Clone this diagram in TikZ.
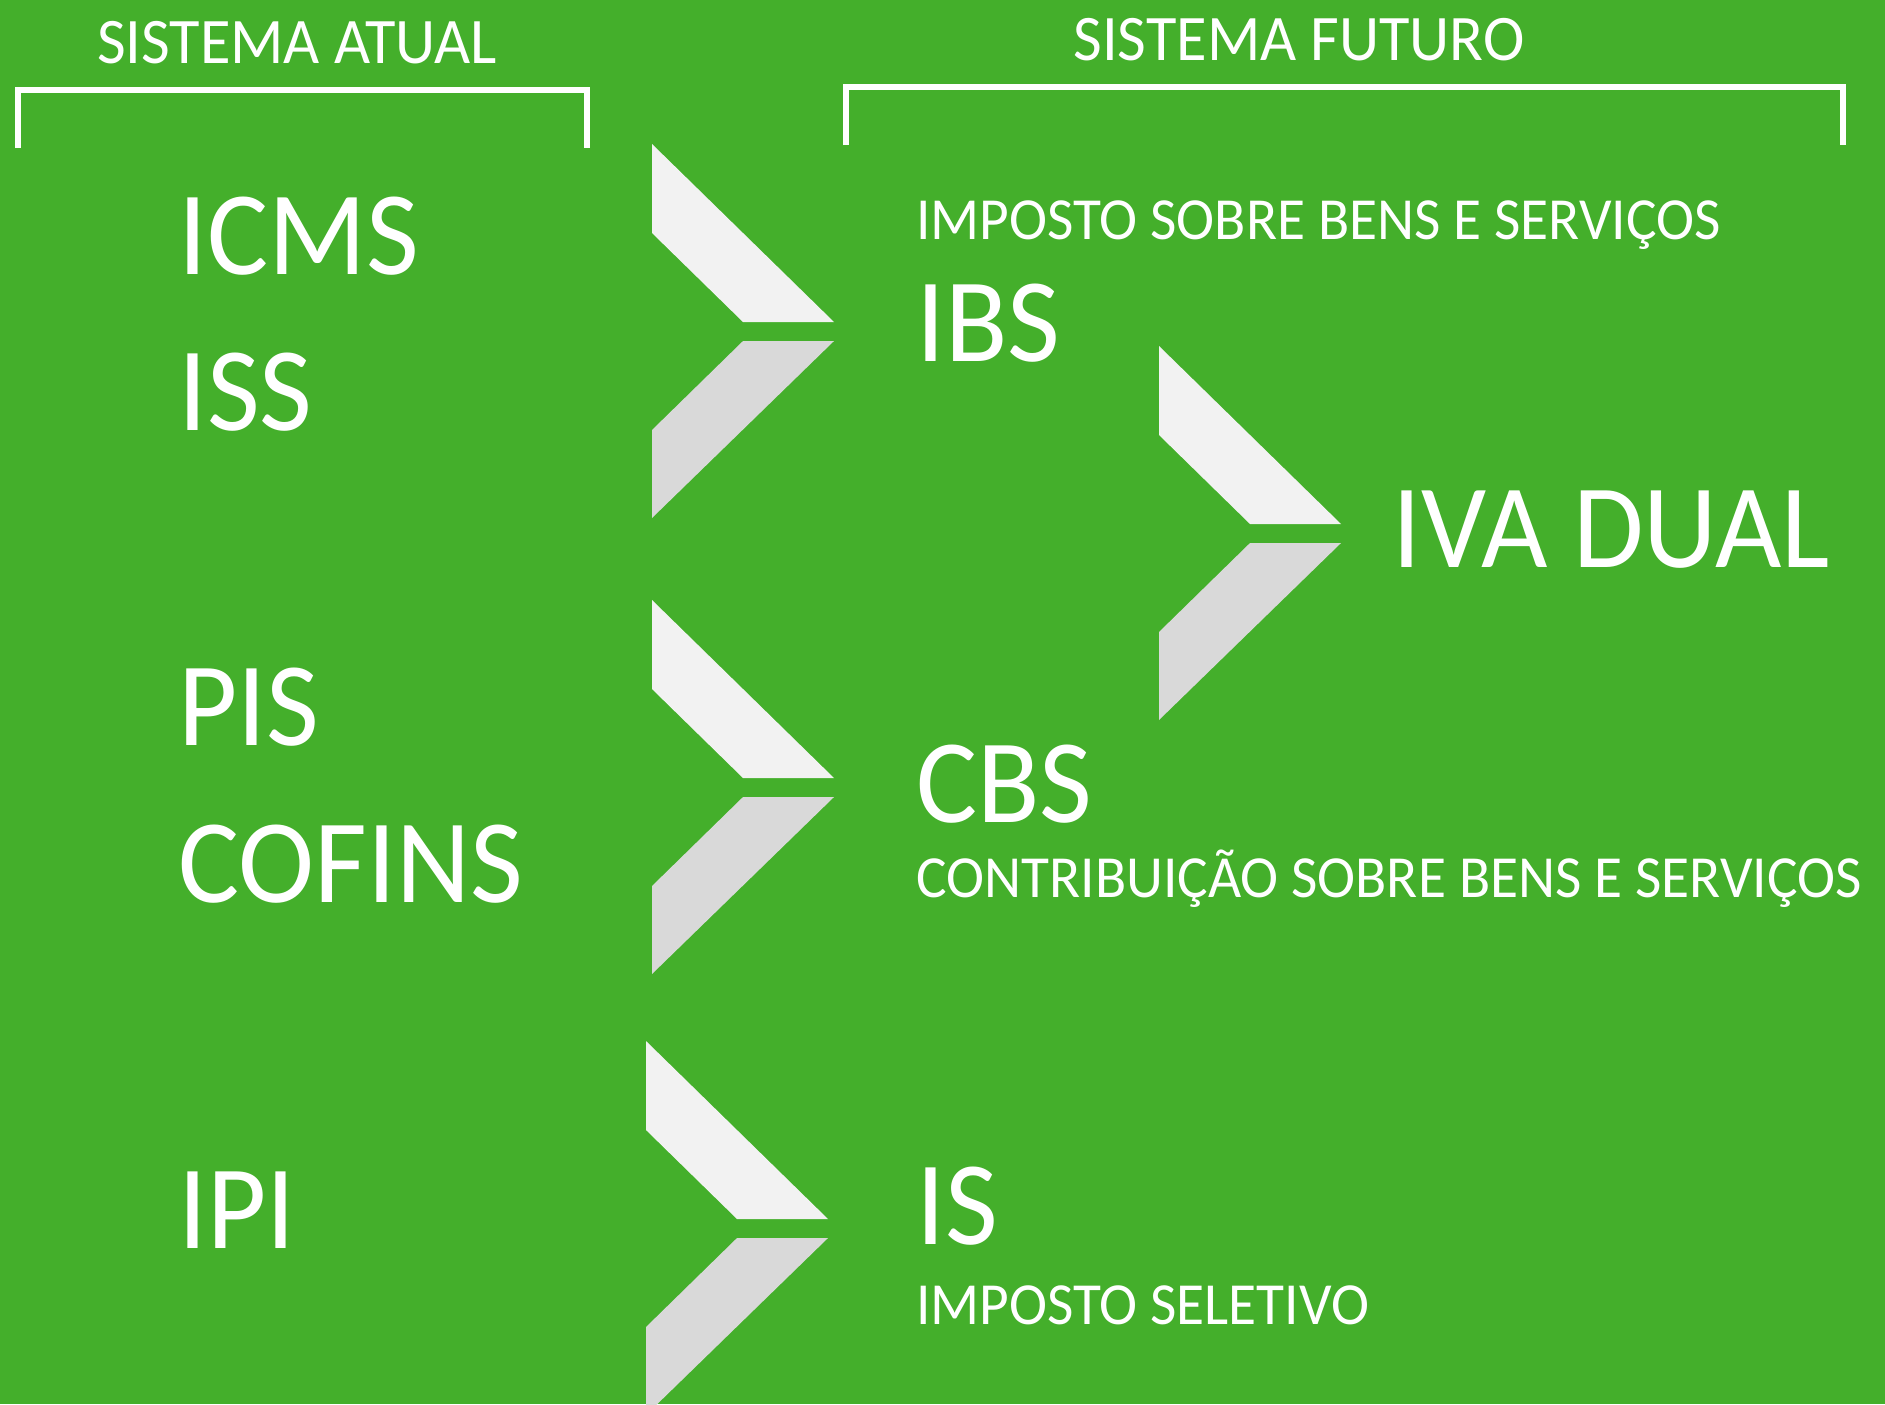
\documentclass[tikz,border=0pt]{standalone}
\usepackage{fontspec}
\setmainfont{Carlito}[FakeStretch=0.96]
\usetikzlibrary{positioning}
\definecolor{bggreen}{HTML}{44AF2B}
\definecolor{chevtop}{HTML}{F2F2F2}
\definecolor{chevbot}{HTML}{D9D9D9}

\begin{document}
\begin{tikzpicture}[x=0.02cm,y=-0.02cm,
  tax/.style={anchor=base west,text=white,inner sep=0pt,font=\fontsize{68}{68}\selectfont},
  sub/.style={anchor=base west,text=white,inner sep=0pt,font=\fontsize{34}{34}\selectfont},
  head/.style={anchor=base,text=white,inner sep=0pt,font=\fontsize{37}{37}\selectfont},
  bracket/.style={white,line width=0.13cm},
  pics/chevron/.style={code={
    \fill[chevtop] (0,0) -- (182,178) -- (91,178) -- (0,89) -- cycle;
    \fill[chevbot] (0,374) -- (182,197) -- (91,197) -- (0,286) -- cycle;}}]
   \fill[bggreen] (0,0) rectangle (1885,1404);
   \useasboundingbox (0,0) rectangle (1885,1404);
   \clip (0,0) rectangle (1885,1404);
   % headings
   \node[head] (atual) at (297,63) {SISTEMA ATUAL};
   \node[head] (futuro) at (1299,60) {SISTEMA FUTURO};
   \draw[bracket] (18,148) -- (18,90) -- (587,90) -- (587,148);
   \draw[bracket] (846,145) -- (846,87) -- (1843,87) -- (1843,145);
   % sistema atual
   \node[tax] (icms) at (178,274) {ICMS};
   \node[tax] (iss) at (178,430) {ISS};
   \node[tax] (pis) at (178,745) {PIS};
   \node[tax] (cofins) at (178,902) {COFINS};
   \node[tax] (ipi) at (178,1248) {IPI};
   % chevrons
   \foreach \x/\y in {652/144, 652/600, 646/1041, 1159/346}
      \pic at (\x,\y) {chevron};
   % sistema futuro
   \node[tax] (ibs) at (916,361) {IBS};
   \node[sub] (ibsname) at (916,239) {IMPOSTO SOBRE BENS E SERVIÇOS};
   \node[tax] (cbs) at (916,822) {CBS};
   \node[sub] (cbsname) at (916,897) {CONTRIBUIÇÃO SOBRE BENS E SERVIÇOS};
   \node[tax] (is) at (916,1244) {IS};
   \node[sub] (isname) at (916,1324) {IMPOSTO SELETIVO};
   \node[tax] (iva) at (1392,567) {IVA DUAL};
\end{tikzpicture}
\end{document}
